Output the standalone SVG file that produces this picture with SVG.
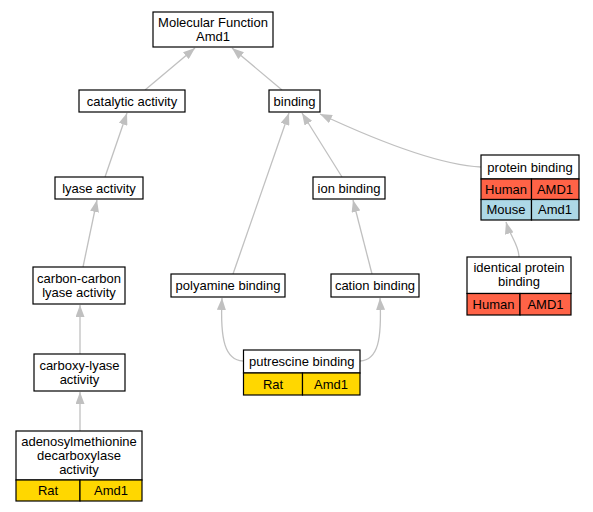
<svg xmlns="http://www.w3.org/2000/svg" width="593" height="512" viewBox="0 0 593 512">
<defs>
<marker id="ah" markerUnits="userSpaceOnUse" markerWidth="12" markerHeight="9" refX="12" refY="4.5" orient="auto">
<path d="M0,0 L12,4.5 L0,9 z" fill="#c0c0c0"/>
</marker>
<style>
.box{fill:#fff;stroke:#000;stroke-width:1.2}
.cell{stroke:#000;stroke-width:1.2}
.hu{fill:#ff6347}
.mo{fill:#add8e6}
.rat{fill:#ffd700}
text{font-family:"Liberation Sans",Arial,sans-serif;font-size:13px;fill:#000;text-anchor:middle}
.e{fill:none;stroke:#c0c0c0;stroke-width:1.3;marker-end:url(#ah)}
</style>
</defs>
<rect width="593" height="512" fill="#fff"/>
<g id="connectors">
<path class="e" d="M145,90 L195,48"/>
<path class="e" d="M282,90 L232,48"/>
<path class="e" d="M105,177 L127,113"/>
<path class="e" d="M83,267 L97,200"/>
<path class="e" d="M80,354 L80,305"/>
<path class="e" d="M80,431 L80,392"/>
<path class="e" d="M342,177 L302,113"/>
<path class="e" d="M233,274 L289,113"/>
<path class="e" d="M481,167 C440,165 380,142 320,114"/>
<path class="e" d="M372,274 L353,200"/>
<path class="e" d="M243,361 C225,360 220,340 222,298"/>
<path class="e" d="M360,361 C378,360 382,340 380,298"/>
<path class="e" d="M519,257 C519,245 510,236 506,222"/>
</g>
<g id="n_mf">
<rect class="box" x="153" y="12" width="120" height="35"/>
<text x="213" y="27">Molecular Function</text>
<text x="213" y="41">Amd1</text>
</g>
<g id="n_catalytic">
<rect class="box" x="79" y="90" width="106" height="22"/>
<text x="132" y="105.5">catalytic activity</text>
</g>
<g id="n_binding">
<rect class="box" x="269" y="90" width="51" height="22"/>
<text x="294.5" y="105.5">binding</text>
</g>
<g id="n_lyase">
<rect class="box" x="55" y="177" width="88" height="22"/>
<text x="99" y="192.5">lyase activity</text>
</g>
<g id="n_ion">
<rect class="box" x="313" y="177" width="72" height="22"/>
<text x="349" y="192.5">ion binding</text>
</g>
<g id="n_protein">
<rect class="box" x="481" y="155" width="98" height="24"/>
<text x="530" y="171.5">protein binding</text>
<rect class="cell hu" x="481" y="179" width="50.5" height="20.5"/>
<rect class="cell hu" x="531.5" y="179" width="47.5" height="20.5"/>
<text x="506" y="193.5">Human</text>
<text x="555" y="193.5">AMD1</text>
<rect class="cell mo" x="481" y="199.5" width="50.5" height="20.5"/>
<rect class="cell mo" x="531.5" y="199.5" width="47.5" height="20.5"/>
<text x="506" y="214">Mouse</text>
<text x="555" y="214">Amd1</text>
</g>
<g id="n_carbon">
<rect class="box" x="33" y="267" width="92" height="37"/>
<text x="79" y="282.5">carbon-carbon</text>
<text x="79" y="296.5">lyase activity</text>
</g>
<g id="n_polyamine">
<rect class="box" x="171" y="274" width="114" height="23"/>
<text x="228" y="290">polyamine binding</text>
</g>
<g id="n_cation">
<rect class="box" x="331" y="274" width="88" height="23"/>
<text x="375" y="290">cation binding</text>
</g>
<g id="n_identical">
<rect class="box" x="467" y="257" width="104" height="36.5"/>
<text x="519" y="272">identical protein</text>
<text x="519" y="286">binding</text>
<rect class="cell hu" x="467" y="293.5" width="53" height="21.5"/>
<rect class="cell hu" x="520" y="293.5" width="51" height="21.5"/>
<text x="493.5" y="308.5">Human</text>
<text x="545.5" y="308.5">AMD1</text>
</g>
<g id="n_carboxy">
<rect class="box" x="34" y="354" width="91" height="37"/>
<text x="79.5" y="369.5">carboxy-lyase</text>
<text x="79.5" y="383.5">activity</text>
</g>
<g id="n_putrescine">
<rect class="box" x="243.5" y="350" width="116.5" height="23"/>
<text x="301.75" y="366">putrescine binding</text>
<rect class="cell rat" x="243.5" y="373" width="59" height="22"/>
<rect class="cell rat" x="302.5" y="373" width="57.5" height="22"/>
<text x="273" y="388.5">Rat</text>
<text x="331" y="388.5">Amd1</text>
</g>
<g id="n_adenosyl">
<rect class="box" x="16" y="431" width="126" height="49"/>
<text x="79" y="445.5">adenosylmethionine</text>
<text x="79" y="459.5">decarboxylase</text>
<text x="79" y="473.5">activity</text>
<rect class="cell rat" x="16" y="480" width="64" height="21"/>
<rect class="cell rat" x="80" y="480" width="62" height="21"/>
<text x="48" y="495">Rat</text>
<text x="111" y="495">Amd1</text>
</g>
</svg>
